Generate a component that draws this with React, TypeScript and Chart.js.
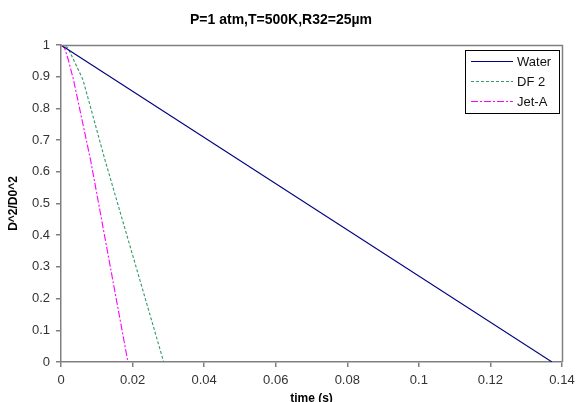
import React, { useEffect, useRef } from "react";
import { Chart, registerables } from "chart.js";

Chart.register(...registerables);

const titleText = "P=1 atm,T=500K,R32=25\u00b5m";
const xTitle = "time (s)";
const yTitle = "D^2/D0^2";

const seriesNames = ["Water", "DF 2", "Jet-A"];
const seriesColors = ["#000080", "#339966", "#FF00FF"];
const seriesDash: number[][] = [[], [3, 2], [7, 2, 2, 2]];

const waterT = [0, 0.1372];
const waterD = [1, 0];
const df2T = [0, 0.001, 0.002, 0.00615, 0.0123, 0.0287];
const df2D = [1, 0.998, 0.99, 0.89, 0.637, 0];
const jetT = [0, 0.001, 0.002, 0.0035, 0.0083, 0.0187];
const jetD = [1, 0.99, 0.955, 0.89, 0.635, 0];

const FONT = "Arial, 'Liberation Sans', sans-serif";

const toPts = (t: number[], d: number[]) => t.map((x, i) => ({ x, y: d[i] }));
const fmt = (v: any) => String(Number(Number(v).toFixed(3)));

const frameAndLegend = {
  id: "frameAndLegend",
  afterDatasetsDraw(chart: any) {
    const { ctx, chartArea } = chart;
    ctx.save();
    ctx.strokeStyle = "#808080";
    ctx.lineWidth = 1.5;
    ctx.beginPath();
    ctx.moveTo(chartArea.left, chartArea.top + 0.5);
    ctx.lineTo(chartArea.right + 0.5, chartArea.top + 0.5);
    ctx.lineTo(chartArea.right + 0.5, chartArea.bottom);
    ctx.stroke();

    // legend
    const bx = chartArea.right - 97;
    const by = chartArea.top + 5;
    const bw = 94;
    const bh = 63;
    ctx.fillStyle = "#ffffff";
    ctx.fillRect(bx, by, bw, bh);
    ctx.strokeStyle = "#000000";
    ctx.lineWidth = 1;
    ctx.strokeRect(bx + 0.5, by + 0.5, bw, bh);
    chart.data.datasets.forEach((ds: any, i: number) => {
      const y = by + 11 + i * 20;
      ctx.strokeStyle = ds.borderColor;
      ctx.lineWidth = 1;
      ctx.setLineDash(ds.borderDash || []);
      ctx.beginPath();
      ctx.moveTo(bx + 6, y + 0.5);
      ctx.lineTo(bx + 48, y + 0.5);
      ctx.stroke();
      ctx.setLineDash([]);
      ctx.fillStyle = "#111";
      ctx.font = "13px " + FONT;
      ctx.textBaseline = "middle";
      ctx.textAlign = "left";
      ctx.fillText(ds.label, bx + 52, y + 1);
    });
    ctx.restore();
  },
};

export default function App() {
  const ref = useRef<HTMLCanvasElement | null>(null);
  useEffect(() => {
    document.body.style.margin = "0";
    const canvas = ref.current;
    if (!canvas) return;
    const datasets = [
      toPts(waterT, waterD),
      toPts(df2T, df2D),
      toPts(jetT, jetD),
    ].map((pts, i) => ({
      label: seriesNames[i],
      data: pts,
      borderColor: seriesColors[i],
      backgroundColor: seriesColors[i],
      borderDash: seriesDash[i],
      borderWidth: 1.1,
      showLine: true,
      pointRadius: 0,
      tension: 0,
    }));
    const chart = new Chart(canvas, {
      type: "scatter",
      data: { datasets },
      plugins: [frameAndLegend],
      options: {
        responsive: false,
        animation: false,
        layout: { padding: { top: 0, right: 15, left: 0, bottom: 0 } },
        plugins: {
          legend: { display: false },
          tooltip: { enabled: false },
          title: {
            display: true,
            text: titleText,
            color: "#000",
            font: { family: FONT, size: 14, weight: "bold" },
            padding: { top: 12, bottom: 16.2 },
          },
        },
        scales: {
          x: {
            type: "linear",
            min: 0,
            max: 0.14,
            ticks: {
              stepSize: 0.02,
              color: "#333",
              font: { family: FONT, size: 13 },
              padding: 6,
              maxRotation: 0,
              callback: fmt,
            },
            grid: {
              drawOnChartArea: false,
              drawTicks: true,
              tickLength: 5,
              color: "#808080",
              lineWidth: 1.5,
            },
            border: { color: "#808080", width: 1.5 },
            title: {
              display: true,
              text: xTitle,
              color: "#000",
              font: { family: FONT, size: 12, weight: "bold" },
              padding: { top: 0, bottom: -4 },
            },
            afterFit: (s: any) => {
              s.height = 40;
              s.paddingRight = 0;
              s.paddingLeft = 0;
            },
          },
          y: {
            type: "linear",
            min: 0,
            max: 1,
            ticks: {
              stepSize: 0.1,
              color: "#333",
              font: { family: FONT, size: 13 },
              padding: 6,
              callback: fmt,
            },
            grid: {
              drawOnChartArea: false,
              drawTicks: true,
              tickLength: 5,
              color: "#808080",
              lineWidth: 1.5,
            },
            border: { color: "#808080", width: 1.5 },
            title: {
              display: true,
              text: yTitle,
              color: "#000",
              font: { family: FONT, size: 12, weight: "bold" },
              padding: { top: 6, bottom: 0 },
            },
            afterFit: (s: any) => {
              s.width = 61;
              s.paddingTop = 0;
              s.paddingBottom = 0;
            },
          },
        },
      },
    } as any);
    return () => chart.destroy();
  }, []);
  return <canvas ref={ref} width={577} height={402} style={{ display: "block" }} />;
}
